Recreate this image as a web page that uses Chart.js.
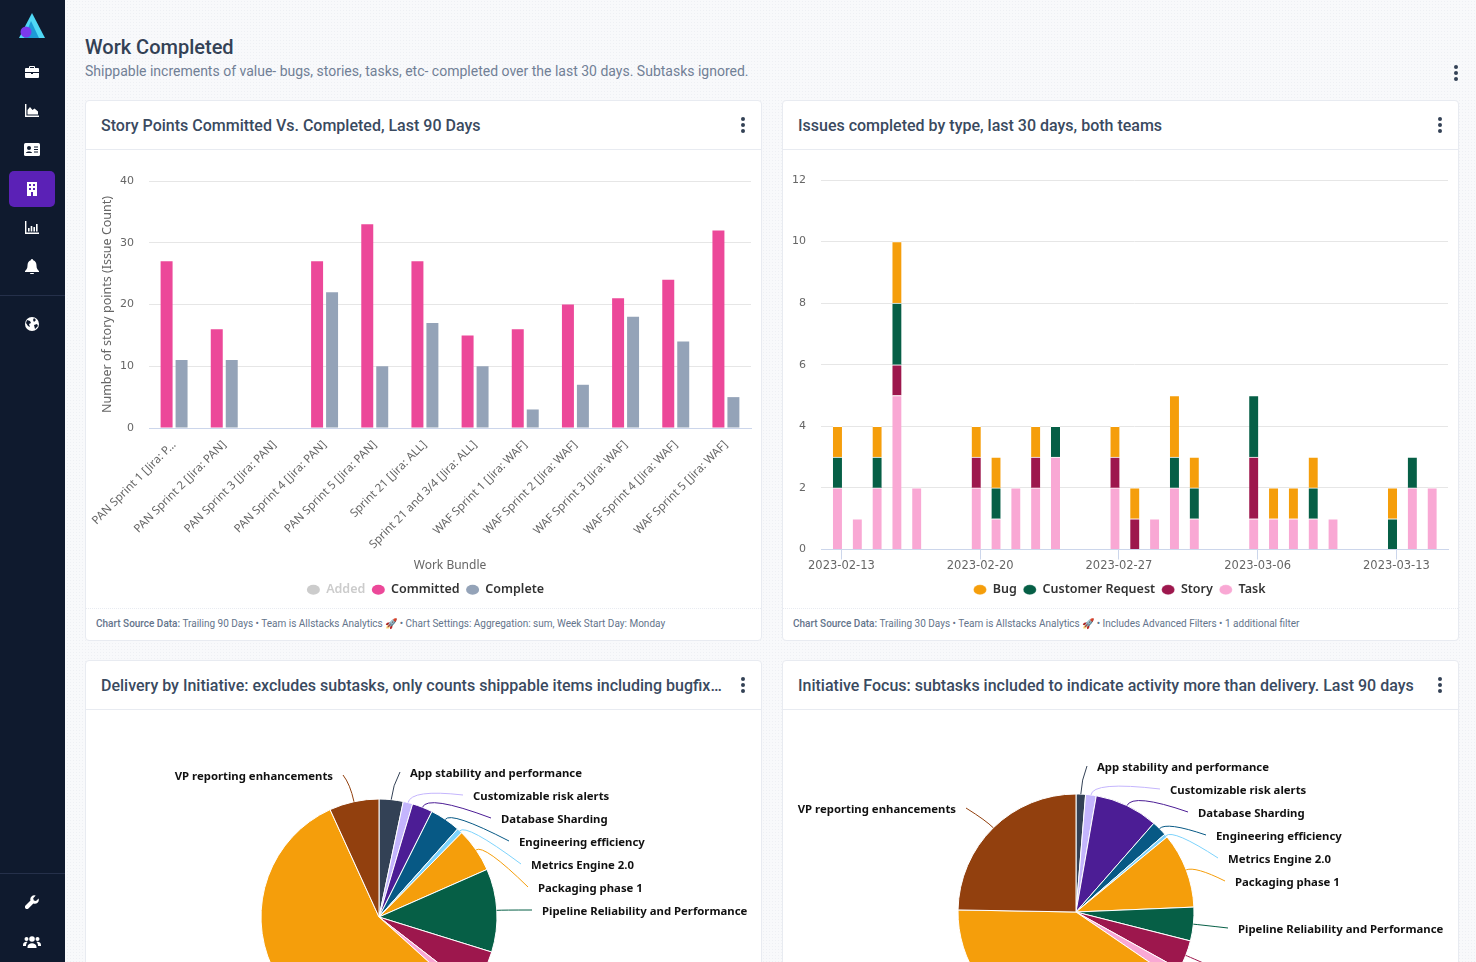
<!DOCTYPE html>
<html><head><meta charset="utf-8">
<script src="https://cdn.jsdelivr.net/npm/chart.js@4"></script>
<style>
html,body{margin:0;padding:0;width:1476px;height:962px;overflow:hidden;font-family:Roboto,sans-serif}
body{position:relative;background-color:#f8f9fb;background-image:radial-gradient(#eef0f4 0.6px,transparent 0.7px);background-size:3px 3px}
#side{position:absolute;left:0;top:0;width:65px;height:962px;background:#0f1a2e}
#side .div{position:absolute;left:0;width:65px;height:1px;background:#25304a}
#side .act{position:absolute;left:9px;top:171px;width:46px;height:36px;border-radius:5px;background:#5b21b6}
#side svg{position:absolute}
h1{position:absolute;left:85px;top:35px;margin:0;font:500 20px Roboto;color:#334155}
.sub{position:absolute;left:85px;top:63px;font:400 14px Roboto;color:#718096}
.card{position:absolute;width:675px;background:#fff;border:1px solid #e8ebf1;border-radius:4px;box-sizing:content-box}
.hd{position:absolute;left:0;top:0;width:675px;height:48px;border-bottom:1px solid #e8ebf1;font:500 16px/50px Roboto;color:#3a4a5f;box-sizing:content-box}
.hd span{position:absolute;left:15px;white-space:nowrap}
.ft{position:absolute;left:0;width:675px;top:507px;height:32px;border-top:1px dotted #e8ebf1;font:400 10px/30px Roboto;color:#64748b}
.ft span{position:absolute;left:10px;white-space:nowrap}
.ft b{font-weight:500}
.dots{position:absolute;width:4px}
.dots i{display:block;width:4px;height:4px;border-radius:2px;background:#334155;margin-bottom:2px}
canvas{position:absolute;display:block}
</style></head><body>
<div id="side">
<svg style="left:18px;top:12px" width="28" height="28" viewBox="0 0 28 28"><polygon points="14,1 27,26 1,26" fill="#4fd8f5"/><polygon points="13,9 21,26 6,26" fill="#1d9ad6"/><circle cx="8" cy="20" r="5.5" fill="#7c3aed"/></svg>
<svg style="left:25px;top:65px" width="14" height="14" viewBox="0 0 14 14" fill="#fff"><path d="M5 1h4a1 1 0 0 1 1 1v1h3a1 1 0 0 1 1 1v3H0V4a1 1 0 0 1 1-1h3V2a1 1 0 0 1 1-1zm0 2h4V2H5zM0 8h6v1h2V8h6v4a1 1 0 0 1-1 1H1a1 1 0 0 1-1-1z"/></svg>
<svg style="left:25px;top:104px" width="14" height="13" viewBox="0 0 14 13" fill="#fff"><path d="M0 0h1.4v11.5H14V13H0z"/><path d="M2.5 10.5V6l2.5-3 2.5 3 2-1.5 3.5 3v3z"/></svg>
<svg style="left:24px;top:143px" width="16" height="13" viewBox="0 0 16 13"><rect width="16" height="13" rx="1.5" fill="#fff"/><circle cx="5" cy="5" r="2" fill="#0f1a2e"/><path d="M2 10c0-2 6-2 6 0z" fill="#0f1a2e"/><path d="M10 4h4M10 6.5h4M10 9h4" stroke="#0f1a2e"/></svg>
<div class="act"></div>
<svg style="left:26px;top:182px" width="12" height="14" viewBox="0 0 12 14"><rect x="1" width="10" height="14" fill="#fff"/><g fill="#5b21b6"><rect x="3" y="2" width="2" height="2"/><rect x="7" y="2" width="2" height="2"/><rect x="3" y="6" width="2" height="2"/><rect x="7" y="6" width="2" height="2"/><rect x="5" y="10" width="2" height="4"/></g></svg>
<svg style="left:25px;top:221px" width="14" height="13" viewBox="0 0 14 13" fill="#fff"><path d="M0 0h1.4v11.5H14V13H0z"/><rect x="3" y="7" width="1.6" height="3.5"/><rect x="5.7" y="5" width="1.6" height="5.5"/><rect x="8.4" y="6" width="1.6" height="4.5"/><rect x="11" y="3" width="1.6" height="7.5"/></svg>
<svg style="left:25px;top:259px" width="14" height="15" viewBox="0 0 14 15" fill="#fff"><path d="M7 0c1 0 1.2.8 1.2 1.3C10.500 2 11.500 4 11.500 6.500c0 3 1 4 2.500 5.500v1H0v-1c1.500-1.500 2.500-2.500 2.500-5.500C2.500 4 3.500 2 5.800 1.300 5.800.8 6 0 7 0z"/><path d="M5 14h4a2 1.300 0 0 1-4 0z"/></svg>
<div class="div" style="top:295px"></div>
<svg style="left:25px;top:317px" width="14" height="14" viewBox="0 0 14 14"><circle cx="7" cy="7" r="7" fill="#fff"/><path d="M2 3l3 1 1 2-2 1 1 3-2-1-2-3zM9 1l2 2-2 2-1-2zM9 8l3-1 1 2-3 3z" fill="#0f1a2e"/></svg>
<div class="div" style="top:873px"></div>
<svg style="left:25px;top:895px" width="14" height="14" viewBox="0 0 14 14" fill="#fff"><path d="M13.600 3.500l-2.600 2.500-2.200-.6L8.200 3.200 10.700.6A4 4 0 0 0 5.500 5.600L.5 10.600a2 2 0 0 0 2.900 2.900l5-5a4 4 0 0 0 5.200-5z"/></svg>
<svg style="left:23px;top:935px" width="18" height="13" viewBox="0 0 18 13" fill="#fff"><circle cx="9" cy="4" r="2.800"/><circle cx="3.500" cy="4" r="2"/><circle cx="14.500" cy="4" r="2"/><path d="M4.500 12c0-5 9-5 9 0v1h-9zM0 10c0-3 3-3.500 4.500-3-1 1-1.500 2-1.500 4H0zM18 10c0-3-3-3.500-4.500-3 1 1 1.500 2 1.500 4h3z"/></svg>
</div>
<h1>Work Completed</h1>
<div class="sub">Shippable increments of value- bugs, stories, tasks, etc- completed over the last 30 days. Subtasks ignored.</div>
<div class="dots" style="left:1454px;top:65px"><i></i><i></i><i></i></div>

<div class="card" style="left:85px;top:100px;height:539px"><div class="hd"><span>Story Points Committed Vs. Completed, Last 90 Days</span></div>
<div class="dots" style="left:655px;top:16px"><i></i><i></i><i></i></div>
<canvas id="c1" width="675" height="456" style="left:0;top:50px"></canvas>
<div class="ft"><span><b>Chart Source Data:</b> Trailing 90 Days • Team is Allstacks Analytics 🚀 • Chart Settings: Aggregation: sum, Week Start Day: Monday</span></div></div>

<div class="card" style="left:782px;top:100px;height:539px"><div class="hd"><span>Issues completed by type, last 30 days, both teams</span></div>
<div class="dots" style="left:655px;top:16px"><i></i><i></i><i></i></div>
<canvas id="c2" width="675" height="456" style="left:0;top:50px"></canvas>
<div class="ft"><span><b>Chart Source Data:</b> Trailing 30 Days • Team is Allstacks Analytics 🚀 • Includes Advanced Filters • 1 additional filter</span></div></div>

<div class="card" style="left:85px;top:660px;height:420px"><div class="hd"><span>Delivery by Initiative: excludes subtasks, only counts shippable items including bugfix…</span></div>
<div class="dots" style="left:655px;top:16px"><i></i><i></i><i></i></div>
<canvas id="c3" width="675" height="412" style="left:0;top:50px"></canvas></div>

<div class="card" style="left:782px;top:660px;height:420px"><div class="hd"><span>Initiative Focus: subtasks included to indicate activity more than delivery. Last 90 days</span></div>
<div class="dots" style="left:655px;top:16px"><i></i><i></i><i></i></div>
<canvas id="c4" width="675" height="402" style="left:0;top:50px"></canvas></div>

<script>
// ---- chart 1 data
const bundles = ["PAN Sprint 1 [Jira: P…","PAN Sprint 2 [Jira: PAN]","PAN Sprint 3 [Jira: PAN]","PAN Sprint 4 [Jira: PAN]","PAN Sprint 5 [Jira: PAN]","Sprint 21 [Jira: ALL]","Sprint 21 and 3/4 [Jira: ALL]","WAF Sprint 1 [Jira: WAF]","WAF Sprint 2 [Jira: WAF]","WAF Sprint 3 [Jira: WAF]","WAF Sprint 4 [Jira: WAF]","WAF Sprint 5 [Jira: WAF]"];
const committed = [27,16,null,27,33,27,15,16,20,21,24,32];
const complete  = [11,11,null,22,10,17,10,3,7,18,14,5];
// ---- chart 2 data: day number since 2023-02-13
const issueDays = [0,1,2,3,4,7,8,9,10,11,14,15,16,17,18,21,22,23,24,25,28,29,30];
const taskCounts  = [2,1,2,5,2,2,1,2,2,3,2,0,1,2,1,1,1,1,1,1,0,2,2];
const storyCounts = [0,0,0,1,0,1,0,0,1,0,1,1,0,0,0,2,0,0,0,0,0,0,0];
const crCounts    = [1,0,1,2,0,0,1,0,0,1,0,0,0,1,1,2,0,0,1,0,1,1,0];
const bugCounts   = [1,0,1,2,0,1,1,0,1,0,1,1,0,2,1,0,1,1,1,0,1,0,0];
const weekTickDays = [0,7,14,21,28];
const weekTickLabels = ["2023-02-13","2023-02-20","2023-02-27","2023-03-06","2023-03-13"];
// ---- pies
const initiatives = ["App stability and performance","Customizable risk alerts","Database Sharding","Engineering efficiency","Metrics Engine 2.0","Packaging phase 1","Pipeline Reliability and Performance","","","","VP reporting enhancements"];
const deliveryShare = [3.3,1.3,2.8,4.2,0.75,6.05,11.4,5.7,1.2,56.5,6.8];
const focusShare    = [1.3,1.45,8.7,2.1,0.47,10.3,4.6,4.1,1.5,40.7,24.7];
const sliceColors = ["#334155","#c4b5fd","#4c1d95","#075985","#7dd3fc","#f59e0b","#065f46","#9d174d","#f9a8d4","#f59e0b","#92400e"];

const FONT='"Noto Sans"', MONO='"DejaVu Sans"';
const LABEL='#666666', GRID='#e6e6e6', AXIS='#ccd6eb';
Chart.defaults.animation=false;
Chart.defaults.responsive=false;
Chart.defaults.font.family=FONT;

const legendCommon={position:'bottom',onClick:null,labels:{usePointStyle:true,pointStyle:'circle',boxHeight:7,pointStyleWidth:13,padding:6.5,color:'#333333',font:{family:FONT,size:12.5,weight:'600'}}};

new Chart(document.getElementById('c1'),{type:'bar',
 data:{labels:bundles,datasets:[
  {label:'Added',data:[],backgroundColor:'#cccccc',hidden:true},
  {label:'Committed',data:committed,backgroundColor:'#ec4899'},
  {label:'Complete',data:complete,backgroundColor:'#94a3b8'}]},
 options:{layout:{padding:{left:14,right:10,top:30,bottom:1}},
  datasets:{bar:{categoryPercentage:.597,barPercentage:.8}},
  plugins:{tooltip:{enabled:false},legend:{...legendCommon,labels:{...legendCommon.labels,
    generateLabels(ch){return ch.data.datasets.map((d,i)=>({text:d.label,fillStyle:d.hidden?'#cccccc':d.backgroundColor,strokeStyle:'transparent',lineWidth:0,pointStyle:'circle',hidden:false,fontColor:d.hidden?'#cccccc':'#333333',datasetIndex:i}))}}}},
  scales:{
   x:{grid:{display:false},border:{color:AXIS},afterFit(s){s.height=149},
      ticks:{color:LABEL,font:{size:11.5},minRotation:45,maxRotation:45,autoSkip:false,padding:2},
      title:{display:true,text:'Work Bundle',color:LABEL,font:{size:12},padding:{top:0,bottom:4}}},
   y:{min:0,max:40,afterFit(s){s.width=49},grid:{color:GRID,drawTicks:false},border:{display:false},
      ticks:{stepSize:10,color:LABEL,font:{family:MONO,size:11},padding:15},
      title:{display:true,text:'Number of story points (Issue Count)',color:LABEL,font:{size:12.5},padding:{top:0,bottom:0}}}}}});

const pts=a=>issueDays.map((d,i)=>({x:d-0.2,y:a[i]})).filter(p=>p.y>0);
const seg={borderColor:'#ffffff',borderWidth:{top:1,left:0,right:0,bottom:0},borderSkipped:false,barThickness:9,stack:'s'};
new Chart(document.getElementById('c2'),{type:'bar',
 data:{datasets:[
  {label:'Task',data:pts(taskCounts),backgroundColor:'#f9a8d4',...seg},
  {label:'Story',data:pts(storyCounts),backgroundColor:'#9d174d',...seg},
  {label:'Customer Request',data:pts(crCounts),backgroundColor:'#065f46',...seg},
  {label:'Bug',data:pts(bugCounts),backgroundColor:'#f59e0b',...seg}]},
 options:{layout:{padding:{left:8,right:10,top:29,bottom:1}},
  plugins:{tooltip:{enabled:false},legend:{...legendCommon,reverse:true}},
  scales:{
   x:{type:'linear',stacked:true,min:-1.03,max:30.6,offset:false,afterFit(s){s.height=27.5},
      afterBuildTicks(s){s.ticks=weekTickDays.map(v=>({value:v}))},
      grid:{offset:false,drawOnChartArea:false,drawTicks:true,tickLength:10,tickColor:AXIS},border:{color:AXIS},
      ticks:{color:LABEL,font:{family:MONO,size:11.5},maxRotation:0,autoSkip:false,padding:0,
        callback(v){return weekTickLabels[weekTickDays.indexOf(v)]}}},
   y:{stacked:true,min:0,max:12,afterFit(s){s.width=30},grid:{color:GRID,drawTicks:false},border:{display:false},
      ticks:{stepSize:2,color:LABEL,font:{family:MONO,size:11},padding:15}}}}});

// leader lines and labels around the pies, placed relative to the pie centre
const leaderPlugin={id:'leaders',afterDatasetsDraw(ch,_,o){
 const c=ch.ctx,arcs=ch.getDatasetMeta(0).data;
 arcs.forEach((a,i)=>{const t=o.targets[i];if(!t)return;
  const mid=(a.startAngle+a.endAngle)/2,cs=Math.cos(mid),sn=Math.sin(mid),R=a.outerRadius;
  const sx=a.x+cs*R,sy=a.y+sn*R,kx=a.x+cs*(R+t.k),ky=a.y+sn*(R+t.k);
  const left=t.dx<0,ex=a.x+t.dx+(left?10:-10),ey=a.y+t.dy-1;
  c.save();c.strokeStyle=sliceColors[i];c.lineWidth=1;c.beginPath();c.moveTo(sx,sy);
  c.quadraticCurveTo(kx,ky,ex,ey);c.stroke();c.restore();
  if(initiatives[i]){c.save();c.font='700 11.35px '+FONT;c.fillStyle='#111111';c.textBaseline='middle';c.textAlign=left?'right':'left';c.fillText(initiatives[i],a.x+t.dx,a.y+t.dy+0.5);c.restore();}
 });}};
const pie=(id,vals,targets)=>new Chart(document.getElementById(id),{type:'pie',plugins:[leaderPlugin],
 data:{labels:initiatives,datasets:[{data:vals,backgroundColor:sliceColors,borderColor:'#ffffff',borderWidth:1}]},
 options:{radius:118,layout:{padding:{right:89}},plugins:{tooltip:{enabled:false},legend:{display:false},leaders:{targets}}}});
pie('c3',deliveryShare,[{dx:31,dy:-144,k:14},{dx:94,dy:-121,k:14},{dx:122,dy:-98,k:14},{dx:140,dy:-75,k:10},{dx:152,dy:-52,k:10},{dx:159,dy:-29,k:10},{dx:163,dy:-6,k:6},null,null,null,{dx:-46,dy:-141,k:18}]);
pie('c4',focusShare,[{dx:21,dy:-145,k:14},{dx:94,dy:-122,k:14},{dx:122,dy:-99,k:14},{dx:140,dy:-76,k:10},{dx:152,dy:-53,k:10},{dx:159,dy:-30,k:10},{dx:162,dy:17,k:6},{dx:162,dy:63,k:6},null,null,{dx:-120,dy:-103,k:10}]);
</script>
</body></html>
